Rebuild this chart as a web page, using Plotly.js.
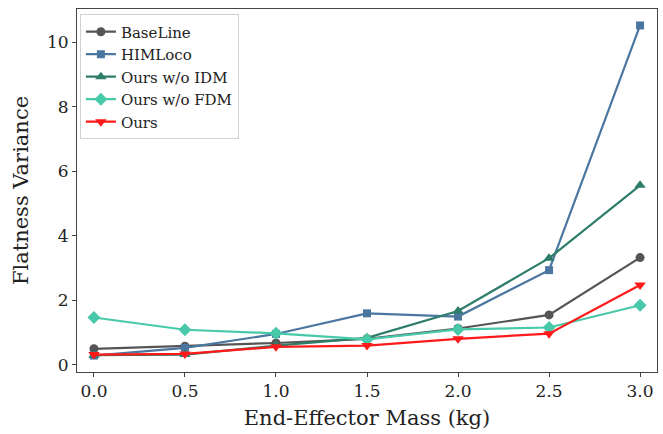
<!DOCTYPE html>
<html><head><meta charset="utf-8">
<script src="https://cdn.plot.ly/plotly-3.0.1.min.js"></script>
<style>html,body{margin:0;padding:0;background:#fff}</style>
</head><body>
<div id="chart" style="width:663px;height:434px"></div>
<script>
const mass = [0.0, 0.5, 1.0, 1.5, 2.0, 2.5, 3.0];
const baseline = [0.49, 0.57, 0.67, 0.80, 1.12, 1.54, 3.32];
const himloco = [0.28, 0.52, 0.95, 1.59, 1.49, 2.93, 10.52];
const oursNoIDM = [0.29, 0.31, 0.59, 0.83, 1.66, 3.30, 5.56];
const oursNoFDM = [1.46, 1.08, 0.97, 0.78, 1.09, 1.15, 1.84];
const ours = [0.31, 0.33, 0.55, 0.59, 0.80, 0.96, 2.47];
const names = ["BaseLine", "HIMLoco", "Ours w/o IDM", "Ours w/o FDM", "Ours"];
const series = [baseline, himloco, oursNoIDM, oursNoFDM, ours];
const colors = ["#555555", "#4a76a0", "#2e7d6b", "#48c9a9", "#ff1a1a"];
const symbols = ["circle", "square", "triangle-up", "diamond", "triangle-down"];
const sizes = [9, 8, 10, 10, 10];
const traces = series.map((s, i) => ({
  x: mass, y: s, name: names[i], type: "scatter", mode: "lines+markers",
  line: {color: colors[i], width: 2.2},
  marker: {color: colors[i], symbol: symbols[i], size: sizes[i]}
}));
const font = "DejaVu Serif, serif";
Plotly.newPlot("chart", traces, {
  width: 663, height: 434,
  margin: {l: 77, r: 6, t: 9, b: 62},
  paper_bgcolor: "#fff", plot_bgcolor: "#fff",
  font: {family: font, color: "#222"},
  showlegend: true,
  legend: {x: 0.005, y: 0.985, xanchor: "left", yanchor: "top",
    bgcolor: "rgba(255,255,255,0.9)", bordercolor: "#d0d0d0", borderwidth: 1,
    font: {family: font, size: 15, color: "#222"}, tracegroupgap: 0},
  xaxis: {range: [-0.093, 3.093], tickvals: mass, tickformat: ".1f",
    showgrid: false, zeroline: false, showline: true, mirror: true,
    linecolor: "#444", linewidth: 1, ticks: "outside", ticklen: 4, tickcolor: "#444",
    tickfont: {family: font, size: 17},
    title: {text: "End-Effector Mass (kg)", font: {family: font, size: 21}, standoff: 9}},
  yaxis: {range: [-0.23, 11.03], tickvals: [0, 2, 4, 6, 8, 10],
    showgrid: false, zeroline: false, showline: true, mirror: true,
    linecolor: "#444", linewidth: 1, ticks: "outside", ticklen: 4, tickcolor: "#444",
    tickfont: {family: font, size: 17},
    title: {text: "Flatness Variance", font: {family: font, size: 21}, standoff: 12}}
}, {displayModeBar: false});
</script>
</body></html>
